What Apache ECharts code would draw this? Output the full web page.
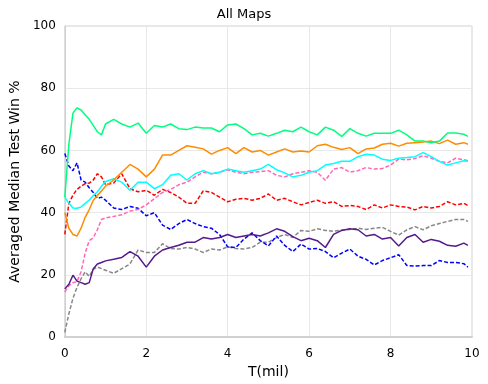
<!DOCTYPE html>
<html>
<head>
<meta charset="utf-8">
<script src="https://cdn.jsdelivr.net/npm/echarts@6/dist/echarts.min.js"></script>
<style>
  html, body { margin: 0; padding: 0; background: #fff; }
  #chart { width: 488px; height: 384px; }
</style>
</head>
<body>
<div id="chart"></div>
<script>
// x positions (millions of steps)
const xs = [0, 0.1, 0.2, 0.3, 0.4, 0.5, 0.6, 0.7, 0.8, 0.9, 1.0,
  1.2, 1.4, 1.6, 1.8, 2.0, 2.2, 2.4, 2.6, 2.8, 3.0,
  3.2, 3.4, 3.6, 3.8, 4.0, 4.2, 4.4, 4.6, 4.8, 5.0,
  5.2, 5.4, 5.6, 5.8, 6.0, 6.2, 6.4, 6.6, 6.8, 7.0,
  7.2, 7.4, 7.6, 7.8, 8.0, 8.2, 8.4, 8.6, 8.8, 9.0,
  9.2, 9.4, 9.6, 9.8, 9.9]

const green = [45, 62, 72, 73.7, 73, 71.5, 70, 68, 66, 65, 68.5,
  70, 68.5, 67.5, 68.8, 65.5, 68, 67.5, 68.5, 67, 66.7,
  67.5, 67.2, 67.2, 66, 68.2, 68.5, 67, 65, 65.5, 64.6,
  65.5, 66.5, 66, 67.5, 66, 65, 67.5, 66.5, 64.5, 67,
  65.5, 64.6, 65.5, 65.5, 65.5, 66.5, 65, 63, 63, 62.5,
  63, 65.6, 65.6, 65.2, 64.5]

const orange = [40, 35, 33, 32.5, 35, 38.5, 41, 44, 45.5, 47, 48.5,
  50.5, 53, 55.5, 54, 51.5, 54, 58.5, 58.5, 60, 61.5,
  61, 60.5, 58.8, 60, 60.9, 59, 60.9, 59.5, 60, 58.5,
  59.5, 60.5, 59.5, 59.8, 59.5, 61.5, 62, 61, 60.3, 60.9,
  59, 60.5, 60.8, 62, 62.3, 61.4, 62.3, 62.5, 62.7, 63,
  62.2, 63.3, 62, 62.5, 62]

const cyan = [45, 43, 41.5, 41.4, 41.8, 43, 44, 45.5, 46.7, 48.5, 50,
  50.9, 49.8, 47.2, 49.8, 49.8, 47.7, 49, 52, 52.5, 50.5,
  52.5, 53.5, 52.5, 53, 54, 53.5, 53, 53.5, 54, 55.5,
  53.8, 52.8, 51.5, 52, 53, 53.5, 55.3, 55.8, 56.5, 56.5,
  58, 58.8, 58.5, 57.2, 56.8, 57.5, 57.7, 58, 59.3, 58,
  56.5, 55.3, 56, 56.7, 56.5]

const pink = [14.5, 16.5, 17.5, 17.8, 21, 27, 31, 32, 34.5, 37.8, 38.3,
  38.8, 39.3, 40.5, 41, 42.5, 44.5, 46.5, 47.5, 49, 49.8,
  51.5, 53, 52.5, 53, 53.8, 53, 52.5, 53, 53.2, 53.5,
  52, 51.5, 52.5, 53, 53.5, 53, 50.4, 54, 54.5, 53,
  53.5, 54.5, 54, 54.2, 55.3, 57.2, 57, 57.4, 58.3, 57.5,
  56.5, 56, 57.5, 57, 56.7]

const red = [33, 43, 45.6, 47.5, 48.5, 49.3, 49.5, 50.5, 52.5, 51.5, 49,
  49.5, 52.5, 47.7, 46.7, 47.2, 45.6, 47.5, 46.5, 45, 43,
  43, 47, 46.5, 45, 43.5, 44.3, 44.6, 44, 44.6, 46,
  44, 44.6, 43.5, 42.5, 43.3, 44, 43, 43.5, 42, 42.3,
  42, 41, 42.5, 41.5, 42.5, 42, 41.8, 40.9, 42, 41.5,
  42, 43.5, 42.5, 43, 42.3]

const blue = [59, 55, 53.5, 56, 50.5, 49.8, 48, 46.5, 44.6, 45, 44,
  41.5, 41, 42, 41.4, 39, 40, 36, 34.6, 36.5, 37.8,
  36.5, 35.5, 35, 33, 29, 28.8, 31.5, 33.5, 31, 29.3,
  32.5, 29.5, 27.5, 29.9, 28.3, 28.5, 27.5, 25.5, 27, 28.3,
  26, 25, 23.2, 24.6, 25.5, 26.5, 23, 22.8, 23, 23,
  24.6, 24, 24, 23.6, 22.5]

const purple = [15.5, 17, 19.9, 18, 17.5, 17, 17.5, 22, 23.5, 24, 24.5,
  25, 25.6, 27.5, 26, 22.5, 26, 28, 28.8, 29.5, 30.5,
  30.5, 32, 31.5, 32, 33, 32, 32.5, 33, 32.5, 33.5,
  34.8, 34, 32.3, 31, 31.8, 31, 28.8, 33, 34.3, 34.8,
  34.5, 32.5, 33, 31.5, 32, 29.3, 32, 33, 30.5, 31.4,
  30.8, 29.5, 29.2, 30.2, 29.5]

const gray = [1.5, 7.5, 12.5, 16, 18.8, 21, 19.5, 21.8, 22.5, 22, 21.5,
  20.5, 22, 23.5, 28, 27.2, 27.2, 30, 28.5, 28.3, 28.8,
  28.3, 27.2, 28.3, 28, 29, 28.5, 28.3, 28.8, 30.5, 30.5,
  32, 33, 32, 34.3, 34, 34.8, 34.3, 34, 34.4, 34.6,
  35, 34.6, 35, 35.3, 34, 32.8, 34.5, 35.5, 34.5, 35.8,
  36.5, 37.2, 37.8, 37.8, 37.2]

const xTicks = [0, 2, 4, 6, 8, 10]
const yTicks = [0, 20, 40, 60, 80, 100]

const font = 'DejaVu Sans'

function pairs (ys) {
  return xs.map((x, i) => [x, ys[i]])
}

function line (data, color, dashed) {
  return {
    type: 'line',
    data: pairs(data),
    showSymbol: false,
    smooth: false,
    lineStyle: {
      color: color,
      width: 1.5,
      type: dashed ? [4, 2] : 'solid'
    },
    itemStyle: { color: color }
  }
}

let chart = echarts.init(document.getElementById('chart'))
chart.setOption({
  animation: false,
  backgroundColor: '#fff',
  title: {
    text: 'All Maps',
    left: 'center',
    top: 3,
    textStyle: { fontFamily: font, fontSize: 13, fontWeight: 'normal', color: '#000' }
  },
  grid: {
    left: 47,
    right: 16,
    top: 26,
    bottom: 41,
    show: true,
    borderColor: '#d0d0d0',
    borderWidth: 1
  },
  xAxis: {
    type: 'value',
    min: 0,
    max: 10,
    interval: 2,
    name: 'T(mil)',
    nameLocation: 'middle',
    nameGap: 9,
    nameTextStyle: { fontFamily: font, fontSize: 14, color: '#000' },
    axisLine: { show: true, lineStyle: { color: '#d0d0d0', width: 2 } },
    axisTick: { show: false },
    axisLabel: {
      fontFamily: font, fontSize: 12, color: '#000', margin: 11,
      formatter: v => xTicks.includes(v) ? String(v) : ''
    },
    splitLine: { show: true, lineStyle: { color: '#e8e8e8' } }
  },
  yAxis: {
    type: 'value',
    min: 0,
    max: 100,
    interval: 20,
    name: 'Averaged Median Test Win %',
    nameLocation: 'middle',
    nameGap: 31,
    nameTextStyle: { fontFamily: font, fontSize: 14, color: '#000' },
    axisLine: { show: true, lineStyle: { color: '#d0d0d0' } },
    axisTick: { show: false },
    axisLabel: {
      fontFamily: font, fontSize: 12, color: '#000', margin: 9,
      formatter: v => yTicks.includes(v) ? String(v) : ''
    },
    splitLine: { show: true, lineStyle: { color: '#e8e8e8' } }
  },
  series: [
    line(gray, '#888888', true),
    line(blue, '#0000ff', true),
    line(red, '#ff0000', true),
    line(pink, '#ff69b4', true),
    line(purple, '#551a8b', false),
    line(cyan, '#00ffff', false),
    line(orange, '#ff8c00', false),
    line(green, '#00ff7f', false)
  ]
})
</script>
</body>
</html>
